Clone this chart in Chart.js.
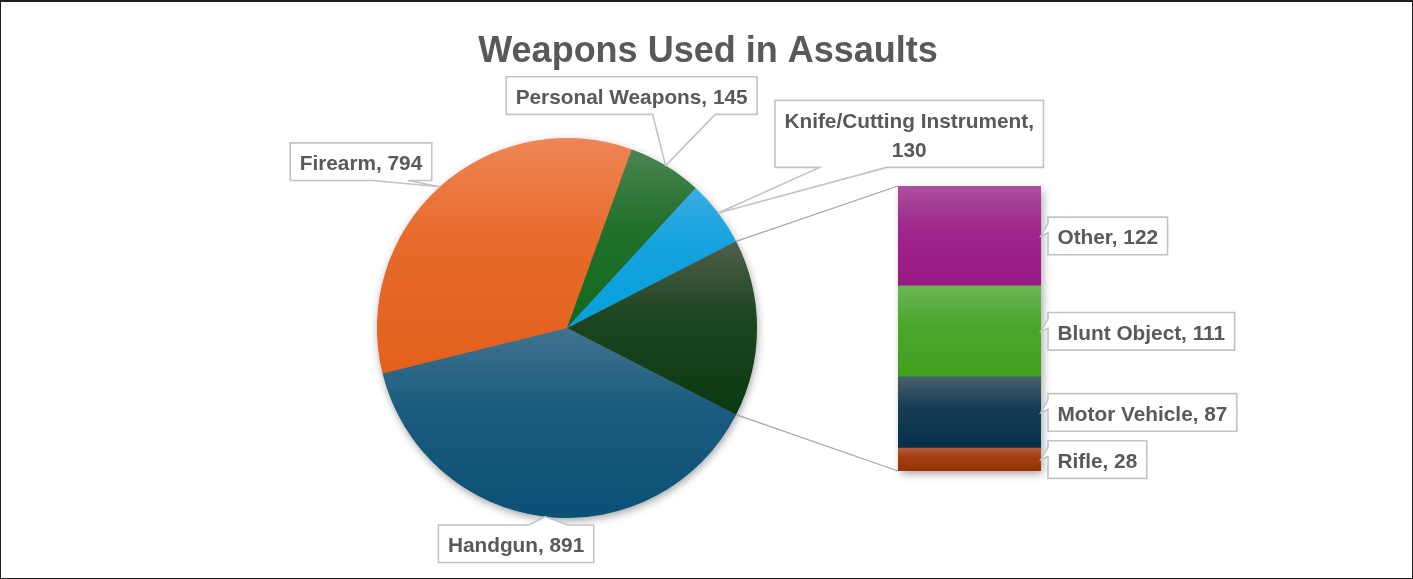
<!DOCTYPE html>
<html>
<head>
<meta charset="utf-8">
<script src="https://cdn.jsdelivr.net/npm/chart.js@4.4.1/dist/chart.umd.min.js"></script>
<style>
html,body{margin:0;padding:0;background:#fff;}
#wrap{position:relative;width:1413px;height:579px;overflow:hidden;background:#fff;}
#wrap canvas{position:absolute;left:0;top:0;}
#frame{position:absolute;left:0;top:0;width:1413px;height:579px;box-sizing:border-box;border:1.5px solid #1e1e1e;border-top-width:2px;pointer-events:none;}
</style>
</head>
<body>
<div id="wrap">
  <canvas id="pieCanvas" width="1413" height="579"></canvas>
  <canvas id="barCanvas" width="1413" height="579"></canvas>
  <div id="frame"></div>
</div>
<script>
// ---------------- data ----------------
const chartTitle = 'Weapons Used in Assaults';
const barCategories = ['Rifle', 'Motor Vehicle', 'Blunt Object', 'Other'];
const barValues = [28, 87, 111, 122];
const pieOwnCategories = ['Handgun', 'Firearm', 'Personal Weapons', 'Knife/Cutting Instrument'];
const pieOwnValues = [891, 794, 145, 130];
// first pie slice = the group broken out into the bar
const pieCategories = ['Other', ...pieOwnCategories];
const pieValues = [barValues.reduce((a, b) => a + b, 0), ...pieOwnValues];

// ---------------- styles ----------------
const FAMILY = '"Liberation Sans", Arial, sans-serif';
const TEXT_COLOR = '#595959';
const LABEL_SIZE = 20.8;
const LINE_H = 29.4;
const PAD_X = 9.5;
const PAD_Y = 4.1;
const pieTop = ['#4e604c', '#42738f', '#ef8656', '#4a8453', '#3cabe2'];
const pieBot = ['#0b3a10', '#0a5177', '#e4601c', '#126a1c', '#05a0de'];
const barTop = ['#b35c3c', '#46606c', '#6ab654', '#ac4f9f'];
const barBot = ['#983200', '#05304a', '#41a01e', '#991884'];
// label box centre offsets from the slice tip
const pieLabelOffsets = {1: [-29, 27], 2: [-79, -25], 3: [-34, -70], 4: [191, -79]};

function hex2rgb(h){ h = h.replace('#',''); return [0,2,4].map(i => parseInt(h.substr(i,2),16)); }
function mix(a, b, t){ const A = hex2rgb(a), B = hex2rgb(b); return 'rgb(' + A.map((v,i)=>Math.round(v+(B[i]-v)*t)).join(',') + ')'; }
function makeGrad(ctx, y0, y1, top, bot){
  if (!isFinite(y0) || !isFinite(y1) || y1 <= y0) return bot;
  const g = ctx.createLinearGradient(0, y0, 0, y1);
  g.addColorStop(0, top);
  g.addColorStop(0.42, mix(top, bot, 0.72));
  g.addColorStop(1, bot);
  return g;
}

const pieTotal = pieValues.reduce((a, b) => a + b, 0);
const pieRotation = 90 - (pieValues[0] / pieTotal) * 180; // centre broken-out slice at 3 o'clock

function pieGradient(c){
  const chart = c.chart, area = chart.chartArea, i = c.dataIndex;
  if (!area) return pieBot[i];
  const cx = (area.left + area.right) / 2, cy = (area.top + area.bottom) / 2;
  const r = Math.min(area.right - area.left, area.bottom - area.top) / 2;
  let a0 = pieRotation * Math.PI / 180 - Math.PI / 2;
  for (let j = 0; j < i; j++) a0 += pieValues[j] / pieTotal * Math.PI * 2;
  const a1 = a0 + pieValues[i] / pieTotal * Math.PI * 2;
  let ymin = cy, ymax = cy;
  for (let k = 0; k <= 60; k++) {
    const a = a0 + (a1 - a0) * k / 60;
    const y = cy + r * Math.sin(a);
    ymin = Math.min(ymin, y); ymax = Math.max(ymax, y);
  }
  return makeGrad(chart.ctx, ymin, ymax, pieTop[i], pieBot[i]);
}

function barGradient(c){
  const chart = c.chart, i = c.datasetIndex, y = chart.scales && chart.scales.y;
  if (!y || !chart.chartArea) return barBot[i];
  let lo = 0; for (let j = 0; j < i; j++) lo += barValues[j];
  const hi = lo + barValues[i];
  return makeGrad(chart.ctx, y.getPixelForValue(hi), y.getPixelForValue(lo), barTop[i], barBot[i]);
}

function wrapLabel(ctx, text, maxW){
  if (ctx.measureText(text).width <= maxW) return [text];
  const idx = text.lastIndexOf(', ');
  return [text.slice(0, idx + 1), text.slice(idx + 2)];
}

function boxSize(ctx, lines){
  const tw = Math.max(...lines.map(l => ctx.measureText(l).width));
  return {w: tw + 2 * PAD_X, h: lines.length * LINE_H + 2 * PAD_Y};
}

function drawCallout(ctx, lines, cx, cy, w, h, tip){
  const x0 = cx - w / 2, y0 = cy - h / 2, x1 = x0 + w, y1 = y0 + h;
  const dx = tip.x - cx, dy = tip.y - cy;
  const inside = tip.x >= x0 && tip.x <= x1 && tip.y >= y0 && tip.y <= y1;
  let edge = null;
  if (!inside) edge = Math.abs(dx) / w > Math.abs(dy) / h ? (dx > 0 ? 'R' : 'L') : (dy > 0 ? 'B' : 'T');
  const fr = d => d > 0 ? [7 / 12, 10 / 12] : [2 / 12, 5 / 12];
  const pts = [[x0, y0]];
  if (edge === 'T') { const f = fr(dx); pts.push([x0 + w * f[0], y0], [tip.x, tip.y], [x0 + w * f[1], y0]); }
  pts.push([x1, y0]);
  if (edge === 'R') { const f = fr(dy); pts.push([x1, y0 + h * f[0]], [tip.x, tip.y], [x1, y0 + h * f[1]]); }
  pts.push([x1, y1]);
  if (edge === 'B') { const f = fr(dx); pts.push([x0 + w * f[1], y1], [tip.x, tip.y], [x0 + w * f[0], y1]); }
  pts.push([x0, y1]);
  if (edge === 'L') { const f = fr(dy); pts.push([x0, y0 + h * f[1]], [tip.x, tip.y], [x0, y0 + h * f[0]]); }
  ctx.save();
  ctx.beginPath();
  pts.forEach((p, k) => k ? ctx.lineTo(p[0], p[1]) : ctx.moveTo(p[0], p[1]));
  ctx.closePath();
  ctx.fillStyle = '#ffffff';
  ctx.fill();
  ctx.lineWidth = 1.6;
  ctx.strokeStyle = '#c3c3c3';
  ctx.lineJoin = 'miter';
  ctx.stroke();
  ctx.fillStyle = TEXT_COLOR;
  ctx.textAlign = 'center';
  ctx.textBaseline = 'alphabetic';
  const n = lines.length;
  lines.forEach((l, k) => ctx.fillText(l, cx, cy + (k - (n - 1) / 2) * LINE_H + 8.3));
  ctx.restore();
}

// ---------------- pie chart ----------------
const piePlugin = {
  id: 'piePlugin',
  beforeDatasetsDraw(chart){
    const el = chart.getDatasetMeta(0).data[0];
    const ctx = chart.ctx;
    ctx.save();
    ctx.beginPath();
    ctx.arc(el.x, el.y, el.outerRadius - 0.5, 0, Math.PI * 2);
    ctx.shadowColor = 'rgba(0,0,0,0.38)';
    ctx.shadowBlur = 9;
    ctx.shadowOffsetX = 1;
    ctx.shadowOffsetY = 3;
    ctx.fillStyle = '#666';
    ctx.fill();
    ctx.restore();
  },
  afterDraw(chart){
    const ctx = chart.ctx;
    ctx.save();
    ctx.font = `bold 36px ${FAMILY}`;
    ctx.fillStyle = TEXT_COLOR;
    ctx.textAlign = 'center';
    ctx.textBaseline = 'alphabetic';
    ctx.fillText(chartTitle, 708, 62);
    ctx.font = `bold ${LABEL_SIZE}px ${FAMILY}`;
    const meta = chart.getDatasetMeta(0);
    meta.data.forEach((el, i) => {
      if (!pieLabelOffsets[i]) return;
      const mid = (el.startAngle + el.endAngle) / 2;
      const tip = {x: el.x + el.outerRadius * Math.cos(mid), y: el.y + el.outerRadius * Math.sin(mid)};
      const text = `${pieCategories[i]}, ${pieValues[i]}`;
      const lines = wrapLabel(ctx, text, 262);
      const s = boxSize(ctx, lines);
      const off = pieLabelOffsets[i];
      drawCallout(ctx, lines, tip.x + off[0], tip.y + off[1], s.w, s.h, tip);
    });
    ctx.restore();
  }
};

const pieChart = new Chart(document.getElementById('pieCanvas'), {
  type: 'pie',
  data: {
    labels: pieCategories,
    datasets: [{
      data: pieValues,
      backgroundColor: pieGradient,
      borderWidth: 0,
      hoverOffset: 0
    }]
  },
  options: {
    responsive: false,
    animation: false,
    devicePixelRatio: 1,
    rotation: pieRotation,
    layout: {padding: {left: 377, right: 656, top: 138, bottom: 61}},
    plugins: {legend: {display: false}, tooltip: {enabled: false}, title: {display: false}}
  },
  plugins: [piePlugin]
});

// ---------------- stacked bar ----------------
const barPlugin = {
  id: 'barPlugin',
  beforeDatasetsDraw(chart){
    const ctx = chart.ctx;
    const first = chart.getDatasetMeta(0).data[0];
    const last = chart.getDatasetMeta(barValues.length - 1).data[0];
    const left = first.x - first.width / 2, right = first.x + first.width / 2;
    const top = last.y, bottom = first.base;
    // shadow
    ctx.save();
    ctx.shadowColor = 'rgba(0,0,0,0.38)';
    ctx.shadowBlur = 9;
    ctx.shadowOffsetX = 2;
    ctx.shadowOffsetY = 3;
    ctx.fillStyle = '#666';
    ctx.fillRect(left + 0.5, top + 0.5, right - left - 1, bottom - top - 1);
    ctx.restore();
    // connector lines from the broken-out slice
    const arc = pieChart.getDatasetMeta(0).data[0];
    const p0 = {x: arc.x + arc.outerRadius * Math.cos(arc.startAngle), y: arc.y + arc.outerRadius * Math.sin(arc.startAngle)};
    const p1 = {x: arc.x + arc.outerRadius * Math.cos(arc.endAngle), y: arc.y + arc.outerRadius * Math.sin(arc.endAngle)};
    ctx.save();
    ctx.strokeStyle = '#a6a6a6';
    ctx.lineWidth = 1.3;
    ctx.beginPath();
    ctx.moveTo(p0.x, p0.y); ctx.lineTo(left, top);
    ctx.moveTo(p1.x, p1.y); ctx.lineTo(left, bottom);
    ctx.stroke();
    ctx.restore();
  },
  afterDatasetsDraw(chart){
    const ctx = chart.ctx;
    ctx.save();
    ctx.font = `bold ${LABEL_SIZE}px ${FAMILY}`;
    barValues.forEach((v, i) => {
      const el = chart.getDatasetMeta(i).data[0];
      const right = el.x + el.width / 2;
      const cy = (el.y + el.base) / 2;
      const lines = [`${barCategories[i]}, ${v}`];
      const s = boxSize(ctx, lines);
      drawCallout(ctx, lines, right + 7 + s.w / 2, cy, s.w, s.h, {x: right, y: cy});
    });
    ctx.restore();
  }
};

const barChart = new Chart(document.getElementById('barCanvas'), {
  type: 'bar',
  data: {
    labels: [''],
    datasets: barValues.map((v, i) => ({
      label: barCategories[i],
      data: [v],
      backgroundColor: barGradient,
      borderWidth: 0,
      categoryPercentage: 1,
      barPercentage: 1
    }))
  },
  options: {
    responsive: false,
    animation: false,
    devicePixelRatio: 1,
    layout: {padding: {left: 898, right: 372, top: 186, bottom: 108}},
    scales: {
      x: {stacked: true, display: false},
      y: {stacked: true, display: false, min: 0, max: pieValues[0]}
    },
    plugins: {legend: {display: false}, tooltip: {enabled: false}, title: {display: false}}
  },
  plugins: [barPlugin]
});
</script>
</body>
</html>
